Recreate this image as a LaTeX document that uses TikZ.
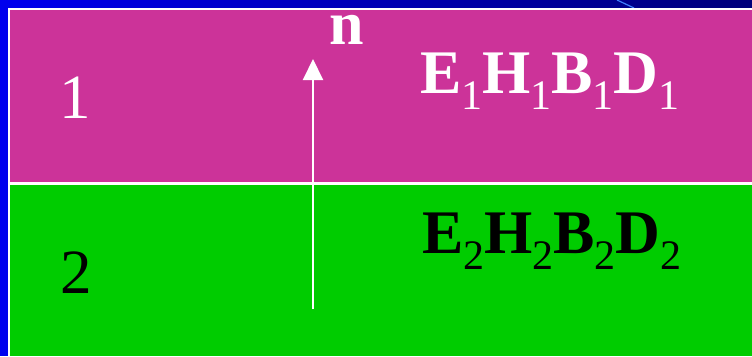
\documentclass[tikz,border=0pt]{standalone}
\usepackage{fontspec}
\setmainfont{Liberation Serif}
\usetikzlibrary{arrows.meta}
\definecolor{bgblue}{HTML}{0000EE}
\definecolor{bgnavy}{HTML}{00007A}
\definecolor{layerpink}{HTML}{CC3399}
\definecolor{layergreen}{HTML}{00CC00}
\definecolor{streak}{HTML}{4080FF}
\tikzset{
  lbl/.style={inner sep=0pt, outer sep=0pt, font=\fontsize{63}{63}\selectfont},
  big/.style={inner sep=0pt, outer sep=0pt, font=\fontsize{62}{62}\selectfont\bfseries},
  normal/.style={draw=white, line width=2pt, -{Triangle[width=20pt,length=21pt]}}
}
\newcommand{\sbx}[1]{\raisebox{-16pt}{\fontsize{42}{42}\mdseries\selectfont #1}}
\begin{document}
\begin{tikzpicture}[x=1pt,y=-1pt]
\useasboundingbox (0,0) rectangle (752,356);
% background
\fill[bgblue] (0,0) rectangle (752,356);
\shade[left color=bgblue, right color=bgnavy] (0,0) rectangle (752,8);
\draw[streak, line width=1.2pt] (617,0) -- (634,8);
% white frame
\fill[white] (8,8) rectangle (752,356);
% layers
\fill[layerpink] (10,10) rectangle (752,182.3);
\fill[layergreen] (10,184.7) rectangle (752,356);
% normal vector
\coordinate (nstart) at (313,309);
\coordinate (ntip) at (313,59);
\draw[normal] (nstart) -- (ntip);
\node[big, text=white, anchor=base, text height=30pt, text depth=0pt] (nlabel) at (347,44) {n};
% region labels
\node[lbl, text=white, anchor=base] (r1) at (75.5,118) {1};
\node[lbl, text=black, anchor=base] (r2) at (76.5,293) {2};
% field labels
\node[big, text=white, anchor=base west] (f1) at (420,93)
  {E\sbx{1}H\sbx{1}B\sbx{1}D\sbx{1}};
\node[big, text=black, anchor=base west] (f2) at (422,253)
  {E\sbx{2}H\sbx{2}B\sbx{2}D\sbx{2}};
\end{tikzpicture}
\end{document}
